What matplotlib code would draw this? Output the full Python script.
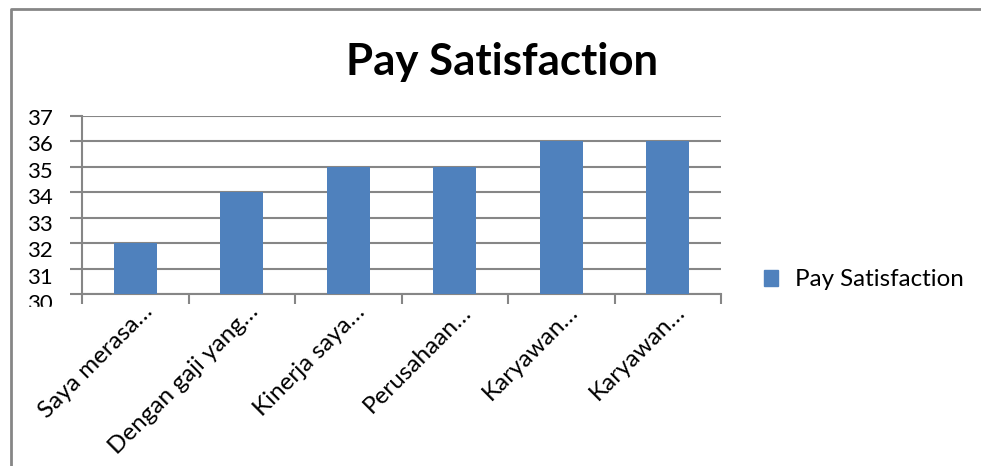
import matplotlib.pyplot as plt
import matplotlib.patches as mpatches
import matplotlib.lines as mlines
from matplotlib.transforms import ScaledTranslation
import numpy as np

plt.rcParams['font.family'] = ['Lato', 'DejaVu Sans']

categories = ['Saya merasa…', 'Dengan gaji yang…', 'Kinerja saya…',
              'Perusahaan…', 'Karyawan…', 'Karyawan…']
values = [32, 34, 35, 35, 36, 36]
series_name = 'Pay Satisfaction'
yticks = [30, 31, 32, 33, 34, 35, 36, 37]

W, H = 981, 466
fig = plt.figure(figsize=(W / 100, H / 100), dpi=100)

# outer chart border (only left and top visible)
fig.add_artist(mlines.Line2D([11 / W, 11 / W, 1.0], [0, 1 - 9 / H, 1 - 9 / H],
                             transform=fig.transFigure, color='#868686', lw=2))

ax = fig.add_axes([82 / W, 1 - 294 / H, (721 - 82) / W, (294 - 116) / H])
x = np.arange(len(categories))
ax.bar(x + 0.5, values, width=0.4, color='#4F81BD', label=series_name, zorder=3)

ax.set_xlim(0, len(categories))
ax.set_ylim(30, 37)
ax.set_yticks(yticks)
ax.set_yticklabels([str(v) for v in yticks])
ax.yaxis.grid(True, color='#868686', lw=1.5, zorder=0)
ax.tick_params(axis='y', length=9, width=1.5, color='#868686', pad=12, labelsize=16)
ax.set_xticks(np.arange(len(categories) + 1))
ax.set_xticklabels([])
ax.tick_params(axis='x', length=7, width=1.5, color='#868686')
ax.set_xticks(x + 0.5, minor=True)
ax.set_xticklabels(categories, minor=True, rotation=45, ha='right',
                   rotation_mode='anchor')
ax.tick_params(axis='x', which='minor', length=0, pad=5, labelsize=17.5)
for s in ['top', 'right']:
    ax.spines[s].set_visible(False)
for s in ['left', 'bottom']:
    ax.spines[s].set_color('#868686')
    ax.spines[s].set_linewidth(1.5)

# nudge labels like Excel draws them
for lab in ax.get_xticklabels(minor=True):
    lab.set_transform(lab.get_transform() + ScaledTranslation(6 / 100, 0, fig.dpi_scale_trans))
for i, lab in enumerate(ax.get_yticklabels()):
    dy = (1 + (len(yticks) - 1 - i)) / 100
    lab.set_transform(lab.get_transform() + ScaledTranslation(0, -dy, fig.dpi_scale_trans))

# Excel clips the lowest label
fig.add_artist(mpatches.Rectangle((14 / W, 1 - 318 / H), 56 / W, 11 / H,
                                  transform=fig.transFigure, color='white', zorder=10))

fig.text(502 / W, 1 - 62 / H, 'Pay Satisfaction', ha='center', va='center',
         fontsize=31.5, fontweight='bold')

handle = mpatches.Patch(color='#4F81BD', label=series_name)
fig.legend(handles=[handle], loc='center left', bbox_to_anchor=(742 / W, 1 - 280 / H),
           frameon=False, fontsize=17.4, handlelength=0.6, handleheight=0.6,
           handletextpad=0.7)

fig.savefig('out.png', dpi=100)
